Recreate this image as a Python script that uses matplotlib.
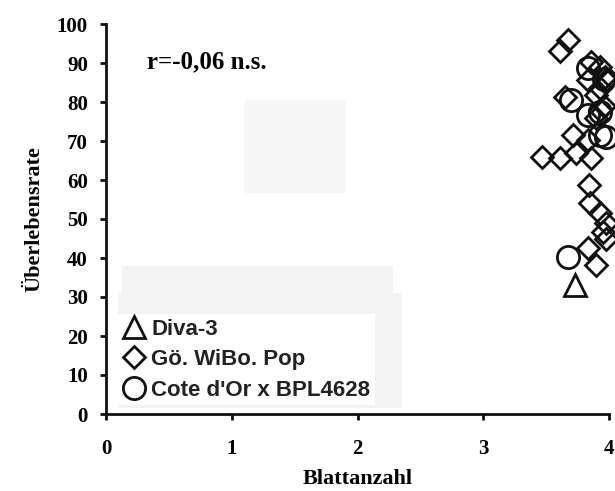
import numpy as np
import matplotlib
matplotlib.use("Agg")
import matplotlib.pyplot as plt
from matplotlib.lines import Line2D
from matplotlib.patches import Rectangle

# Blattanzahl (x) und Ueberlebensrate (y) je Genotyp
diva_x = [3.73]
diva_y = [33.1]

wibo_x = [3.67, 3.61, 3.86, 3.93, 3.83, 3.98, 3.93, 3.65, 3.90, 3.96, 3.93,
          3.90, 3.71, 3.83, 3.47, 3.61, 3.74, 3.86, 3.84, 3.85, 3.93, 3.98,
          3.95, 3.98, 3.83, 3.90, 3.97]
wibo_y = [95.9, 93.1, 90.3, 89.1, 85.6, 85.6, 83.5, 81.4, 81.8, 79.0, 78.0,
          75.8, 71.5, 70.3, 66.0, 65.6, 66.8, 65.6, 58.7, 54.0, 51.5, 48.9,
          46.7, 45.0, 42.5, 38.2, 86.5]

cote_x = [3.83, 3.96, 3.70, 3.83, 3.93, 3.93, 3.98, 3.67]
cote_y = [88.6, 86.0, 80.5, 76.7, 77.5, 71.5, 71.1, 40.3]

labels = ["Diva-3", "Gö. WiBo. Pop", "Cote d'Or x BPL4628"]
xticks = [0, 1, 2, 3, 4]
yticks = np.arange(0, 101, 10)

serif = "Liberation Serif"
sans = "Liberation Sans"

fig = plt.figure(figsize=(6.15, 4.91), dpi=100)
ax = fig.add_axes([106 / 615, 77 / 491, 503 / 615, 390 / 491])

# blasse Scan-Flaechen im Hintergrund
for (x0, y0, w, h, c) in [(0.274, 0.567, 0.203, 0.238, "#f7f7f7"),
                          (0.032, 0.310, 0.539, 0.069, "#f3f3f3"),
                          (0.024, 0.015, 0.564, 0.295, "#f3f3f3")]:
    ax.add_patch(Rectangle((x0, y0), w, h, transform=ax.transAxes,
                           facecolor=c, edgecolor="none", zorder=0))

mk = dict(ls="", mfc="none", mec="#111111", mew=2.0, clip_on=False, zorder=3)
ax.plot(wibo_x, wibo_y, marker="D", ms=11, **mk)
ax.plot(cote_x, cote_y, marker="o", ms=16, **mk)
ax.plot(diva_x, diva_y, marker="^", ms=16, **mk)

ax.set_xlim(0, 4)
ax.set_ylim(0, 100)
ax.set_xticks(xticks)
ax.set_yticks(yticks)
for s in ["top", "right"]:
    ax.spines[s].set_visible(False)
for s in ["left", "bottom"]:
    ax.spines[s].set_linewidth(2)
    ax.spines[s].set_color("#111111")
ax.tick_params(direction="out", length=4, width=2, color="#111111")
ax.tick_params(axis="x", pad=14)
ax.tick_params(axis="y", pad=9)
for t in ax.get_xticklabels() + ax.get_yticklabels():
    t.set_fontfamily(serif)
    t.set_fontweight("bold")
    t.set_fontsize(15)

ax.set_xlabel("Blattanzahl", fontfamily=serif, fontweight="bold",
              fontsize=16, labelpad=7)
ax.set_ylabel("Überlebensrate", fontfamily=serif, fontweight="bold",
              fontsize=16, labelpad=9)

ax.text(0.33, 90.3, "r=-0,06 n.s.", fontfamily=serif, fontweight="bold",
        fontsize=18, ha="left", va="center")

handles = [Line2D([], [], marker="^", ms=16, ls="", mfc="none", mec="#111111", mew=2),
           Line2D([], [], marker="D", ms=11, ls="", mfc="none", mec="#111111", mew=2),
           Line2D([], [], marker="o", ms=16, ls="", mfc="none", mec="#111111", mew=2)]
leg = ax.legend(handles, labels, loc="lower left", bbox_to_anchor=(0.024, 0.023),
                borderaxespad=0, frameon=True, fancybox=False, edgecolor="none",
                facecolor="white", framealpha=1, handlelength=1.0,
                handletextpad=0.3, labelspacing=0.42, borderpad=0.2,
                prop={"family": sans, "weight": "bold", "size": 16})
for t in leg.get_texts():
    t.set_color("#222222")

fig.savefig("out.png", dpi=100)
